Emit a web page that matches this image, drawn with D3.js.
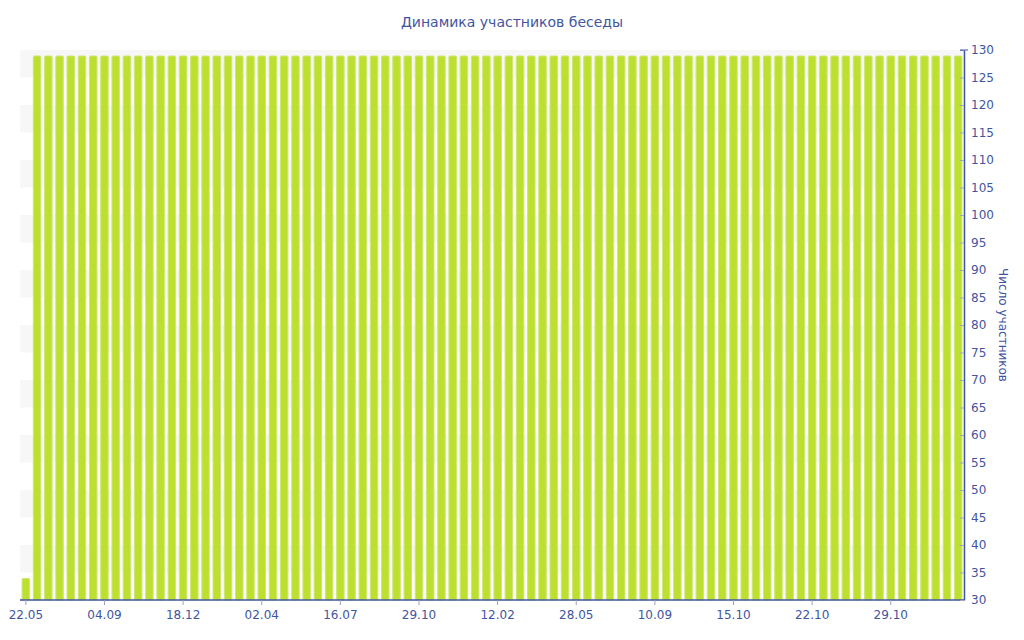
<!DOCTYPE html>
<html>
<head>
<meta charset="utf-8">
<script src="https://cdn.jsdelivr.net/npm/d3@7"></script>
<style>
  body { margin: 0; background: #fff; }
  text { font-family: "DejaVu Sans", Verdana, sans-serif; fill: #3f55a0; }
</style>
</head>
<body>
<div id="chart"></div>
<script>
// chart data

var width = 1024,
  height = 640;

var barCount = 84;
var values = [34];
for (var k = 1; k < barCount; k++) values.push(129); // every bar after the first reads 129
var tickLabels = ["22.05", "04.09", "18.12", "02.04", "16.07", "29.10", "12.02", "28.05", "10.09", "15.10", "22.10", "29.10"];
var tickEvery = 7;
var yTicks = d3.range(30, 131, 5);

var margin = { left: 20, right: 60, top: 50, bottom: 40 };

var svg = d3.select("#chart").append("svg")
    .attr("width", width)
    .attr("height", height);

var x = d3.scaleBand()
    .domain(d3.range(barCount))
    .range([margin.left, width - margin.right])
    .paddingInner(0.24)
    .paddingOuter(0.14);

var y = d3.scaleLinear()
    .domain([30, 130])
    .range([height - margin.bottom, margin.top]);

// striped background

svg.append("g")
  .selectAll("rect")
  .data(d3.range(35, 130, 10))
  .enter().append("rect")
  .attr("x", margin.left)
  .attr("width", width - margin.right - margin.left)
  .attr("y", function(d) { return y(d + 5); })
  .attr("height", function(d) { return y(d) - y(d + 5); })
  .style("fill", "#f7f7f7");

// bars

svg.append("g")
  .selectAll("rect")
  .data(values)
  .enter().append("rect")
  .attr("x", function(d, i) { return x(i) + 0.5; })
  .attr("width", x.bandwidth() - 1)
  .attr("y", function(d) { return y(d) + 0.5; })
  .attr("height", function(d) { return y(30) - y(d) - 0.5; })
  .attr("rx", 1)
  .style("fill", "#bde030")
  .style("stroke", "#cfe872")
  .style("stroke-width", 1);

// x axis

var xAxis = svg.append("g")
    .attr("transform", "translate(0," + y(30) + ")")
    .call(d3.axisBottom(x)
      .tickValues(d3.range(0, barCount, tickEvery))
      .tickFormat(function(d) { return tickLabels[d / tickEvery]; })
      .tickSize(5)
      .tickSizeOuter(0));

xAxis.select(".domain").attr("stroke", "#3f55a0").attr("stroke-width", 1.5)
    .attr("d", "M" + margin.left + ",0H" + (width - margin.right));
xAxis.selectAll(".tick line").attr("stroke", "#9aa3c4");
xAxis.selectAll("text").style("font-size", "12px").attr("dy", "0.9em");

// y axis

var yAxis = svg.append("g")
    .attr("transform", "translate(" + (width - margin.right) + ",0)")
    .call(d3.axisRight(y)
      .tickValues(yTicks)
      .tickSize(-4)
      .tickPadding(7)
      .tickSizeOuter(0));

yAxis.select(".domain").attr("stroke", "#3f55a0").attr("stroke-width", 1.5);
yAxis.selectAll(".tick line").attr("stroke", "#a0a6b8");
yAxis.selectAll("text").style("font-size", "12px");

svg.append("line")
  .attr("x1", width - margin.right - 4)
  .attr("x2", width - margin.right + 4)
  .attr("y1", y(130))
  .attr("y2", y(130))
  .attr("stroke", "#3f55a0");

// labels

svg.append("text")
  .attr("x", 1003)
  .attr("y", (y(30) + y(130)) / 2)
  .attr("transform", "rotate(90,1003," + ((y(30) + y(130)) / 2) + ")")
  .attr("text-anchor", "middle")
  .attr("dy", "0.35em")
  .style("font-size", "12px")
  .text("Число участников");

svg.append("text")
  .attr("x", 512)
  .attr("y", 27)
  .attr("text-anchor", "middle")
  .style("font-size", "14px")
  .text("Динамика участников беседы");
</script>
</body>
</html>
